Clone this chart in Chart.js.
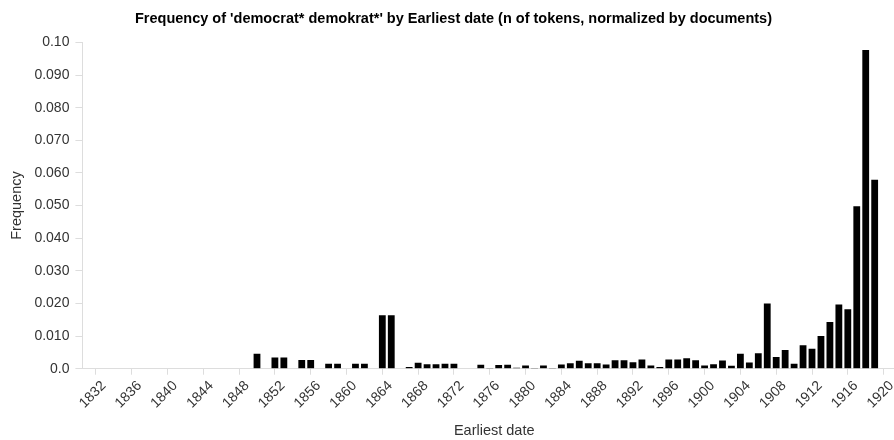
<!DOCTYPE html>
<html>
<head>
<meta charset="utf-8">
<script src="https://cdn.jsdelivr.net/npm/chart.js@4"></script>
<style>
  html, body { margin: 0; padding: 0; background: #fff; overflow: hidden; }
  #wrap { width: 906px; height: 440px; }
</style>
</head>
<body>
<div id="wrap"><canvas id="myChart" width="906" height="440"></canvas></div>
<script>
// one category per year, 1829 .. 1920
const years = [];
for (let y = 1829; y <= 1920; y++) years.push(String(y));

// frequency per year (null = no bar)
const freq1829to1847 = [null, null, null, null, null, null, null, null, null, null,
                        null, null, null, null, null, null, null, null, null];
const freq1848to1872 = [0.0046, null, 0.0034, 0.0034, null, 0.0027, 0.0027, null, 0.0015, 0.0015,
                        null, 0.0015, 0.0015, null, 0.0164, 0.0164, null, 0.0005, 0.0018, 0.0014,
                        0.0014, 0.0015, 0.0015, null, null];
const freq1873to1897 = [0.0012, 0.0002, 0.0011, 0.0012, 0.0003, 0.0010, 0.0002, 0.0010, 0.0002, 0.0013,
                        0.0017, 0.0024, 0.0017, 0.0017, 0.0013, 0.0026, 0.0026, 0.0020, 0.0028, 0.0010,
                        0.0005, 0.0028, 0.0028, 0.0032, 0.0026];
const freq1898to1920 = [0.0010, 0.0014, 0.0025, 0.0009, 0.0046, 0.0019, 0.0047, 0.0200, 0.0036, 0.0057,
                        0.0015, 0.0072, 0.0061, 0.0100, 0.0143, 0.0197, 0.0182, 0.0498, 0.0977, 0.0579,
                        null, null, null];
const frequency = [].concat(freq1829to1847, freq1848to1872, freq1873to1897, freq1898to1920);

const yTicks = [0, 0.01, 0.02, 0.03, 0.04, 0.05, 0.06, 0.07, 0.08, 0.09, 0.1];

const axisGray = '#dddddd';
const labelFont = { family: 'Liberation Sans, Arial, sans-serif', size: 14 };
const axisTitleFont = { family: 'Liberation Sans, Arial, sans-serif', size: 14.5 };

const ctx = document.getElementById('myChart').getContext('2d');
const chart = new Chart(ctx, {
    type: 'bar',
    data: {
        labels: years,
        datasets: [{
            label: 'Frequency',
            data: frequency,
            backgroundColor: '#000000',
            borderWidth: 0,
            barPercentage: 0.76,
            categoryPercentage: 1.0
        }]
    },
    options: {
        responsive: false,
        devicePixelRatio: 1,
        animation: false,
        layout: { padding: { left: 1, right: 0, top: 0, bottom: -4 } },
        plugins: {
            legend: { display: false },
            tooltip: { enabled: false },
            title: {
                display: true,
                text: "Frequency of 'democrat* demokrat*' by Earliest date (n of tokens, normalized by documents)",
                color: '#000',
                font: { family: 'Liberation Sans, Arial, sans-serif', size: 14.5, weight: 'bold' },
                padding: { top: 10, bottom: 15 }
            }
        },
        scales: {
            x: {
                offset: true,
                afterFit: function(axis) {
                    // let the last band run to the canvas edge, like the reference
                    axis.paddingRight = 0;
                },
                grid: { display: true, drawOnChartArea: false, drawTicks: true, tickLength: 6, color: axisGray },
                border: { color: axisGray },
                ticks: {
                    autoSkip: false,
                    minRotation: 45,
                    maxRotation: 45,
                    labelOffset: -10,
                    color: '#333',
                    font: labelFont,
                    callback: function(value) {
                        const yr = Number(this.getLabelForValue(value));
                        return yr % 4 === 0 ? String(yr) : null;
                    }
                },
                title: { display: true, text: 'Earliest date', color: '#333', font: axisTitleFont, padding: { top: 8 } }
            },
            y: {
                min: 0,
                max: 0.1,
                afterBuildTicks: function(axis) {
                    axis.ticks = yTicks.map(v => ({ value: v }));
                },
                grid: { display: true, drawOnChartArea: false, drawTicks: true, tickLength: 7, color: axisGray },
                border: { color: axisGray },
                ticks: {
                    color: '#333',
                    font: labelFont,
                    padding: 6,
                    callback: function(v) {
                        if (v === 0) return '0.0';
                        if (Math.abs(v - 0.1) < 1e-9) return '0.10';
                        return v.toFixed(3);
                    }
                },
                title: { display: true, text: 'Frequency', color: '#333', font: axisTitleFont, padding: { top: 7, bottom: 3 } }
            }
        }
    }
});
</script>
</body>
</html>
